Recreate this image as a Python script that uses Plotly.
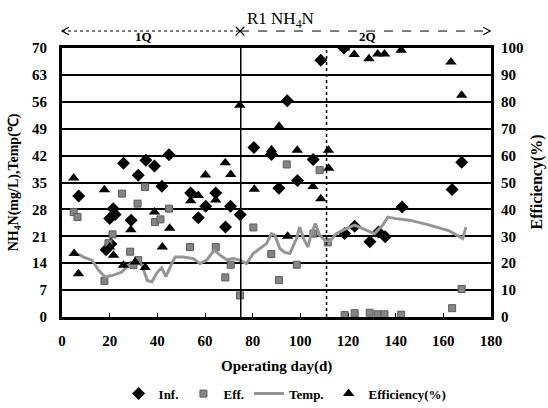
import plotly.graph_objects as go

# ---- data ----
inf_day = [7, 18.5, 20, 20.5, 21.5, 22.3, 25.8, 29, 32, 35.2, 38.8, 41.9, 44.9, 54, 57.2, 60.3,
           64.5, 68.6, 70.7, 74.8, 80.5, 87.9, 91, 94.5, 98.8, 105.4, 108.6, 118.3, 118.6,
           122.8, 129.2, 132.8, 135.6, 142.7, 163.7, 167.7]
inf_val = [31.5, 17.5, 25.6, 19, 28.2, 26.7, 40, 25.2, 36.9, 40.8, 39.3, 34, 42.2, 32.3, 25.8, 28.8,
           32.3, 23.4, 28.8, 26.6, 44.1, 42.3, 33.5, 56.3, 35.5, 41, 66.8, 70, 21.7,
           23.6, 19.6, 22.1, 20.9, 28.6, 33.2, 40.3]

eff_day = [4.9, 6.5, 17.8, 19.5, 21.2, 25.2, 28.6, 30, 32, 31.7, 34.8, 39, 41.3, 44.9, 53.7, 64.5,
           68.5, 70.8, 74.7, 80.3, 87.8, 91, 94.3, 98.5, 105.5, 108.1, 111.5, 118.6, 122.8,
           129.1, 132.5, 135.3, 142.3, 163.7, 167.7]
eff_val = [27.3, 26, 9.4, 19.2, 21.5, 32.1, 17, 13.5, 14.8, 29.5, 33.8, 24.7, 25.4, 28.2, 18.2, 18.2,
           10.3, 13.6, 5.6, 23.3, 16.4, 9.6, 39.7, 13.6, 21.7, 38.2, 19.4, 0.5, 1,
           1.1, 0.7, 0.7, 0.6, 2.3, 7.3]

temp_day = [4.9, 7.7, 9, 12.6, 15.3, 18.1, 21.6, 25.1, 27.9, 30.7, 33.5, 35.8, 37.7, 39.8, 41.8,
            43.6, 46.5, 47.5, 50.9, 55.1, 57.9, 60.7, 63.9, 66.3, 69.1, 71.8, 74.6, 77.4, 80.2,
            83.7, 85.8, 87.9, 89.3, 91.4, 93.5, 95.6, 98.4, 99.7, 101.4, 103.2, 104.6, 106.3,
            108.1, 111.6, 115.1, 119.3, 122.8, 127.7, 131.1, 134.6, 136.7, 140.2, 145.8, 154.2,
            162.5, 168.1, 169.5]
temp_val = [16.5, 16.1, 15.6, 14.8, 12.2, 10.4, 10.9, 11.7, 13.5, 14.3, 13.5, 9.5, 9.1, 11.5, 12.8,
            10.5, 14.5, 15.6, 15.6, 15.2, 13.9, 14.8, 17.4, 16.1, 14.9, 15.2, 14.8, 13.9, 16.5,
            18.2, 19.1, 21.7, 21.3, 17.8, 16.8, 16.5, 20.4, 23.4, 20.4, 18.2, 21.7, 24.3,
            21.3, 19.1, 21.7, 23, 23.9, 22.6, 21.7, 23.9, 26, 25.6, 25.2, 23.9,
            22.4, 20.4, 23.4]

effic_day = [4.9, 5.1, 6.9, 17.8, 20, 21.6, 25.8, 28.9, 30.7, 34.9, 38.8, 42.1, 45.2, 54, 57.2,
             60.2, 64.5, 68.5, 70.8, 74.6, 80.7, 87.9, 91.1, 94.7, 98.7, 105.3, 108.6, 111.8,
             111.9, 118.6, 122.6, 128.8, 132.5, 135.3, 142.3, 163.2, 167.7]
effic_val = [51.7, 23.6, 16.1, 47.3, 26, 23, 19.2, 32.4, 20.4, 18.4, 39, 26, 33, 43.2, 45.2,
             52.8, 43.5, 57.3, 53, 78.7, 47.5, 62.2, 70.9, 30, 62, 48.5, 44, 62,
             55.3, 100, 97.6, 96, 97.8, 97.8, 99.2, 94.8, 82.4]

x_ticks = [0, 20, 40, 60, 80, 100, 120, 140, 160, 180]
left_ticks = [0, 7, 14, 21, 28, 35, 42, 49, 56, 63, 70]
right_ticks = [0, 10, 20, 30, 40, 50, 60, 70, 80, 90, 100]
phase_split = 75
phase_mark = 111

FONT = "Liberation Serif"

fig = go.Figure()
fig.add_trace(go.Scatter(x=inf_day, y=inf_val, mode="markers", name="Inf.",
                         marker=dict(symbol="diamond", size=10, color="black")))
fig.add_trace(go.Scatter(x=eff_day, y=eff_val, mode="markers", name="Eff.",
                         marker=dict(symbol="square", size=7, color="#858585",
                                     line=dict(color="#5a5a5a", width=1))))
fig.add_trace(go.Scatter(x=temp_day, y=temp_val, mode="lines", name="Temp.",
                         line=dict(color="#959595", width=3)))
fig.add_trace(go.Scatter(x=effic_day, y=effic_val, mode="markers", name="Efficiency(%)",
                         yaxis="y2",
                         marker=dict(symbol="triangle-up", size=10, color="black")))

tickfont = dict(family=FONT, size=15, color="black", weight="bold")

fig.update_layout(
    width=548, height=408,
    margin=dict(l=62, r=57, t=48, b=91, autoexpand=False),
    paper_bgcolor="white", plot_bgcolor="white",
    font=dict(family=FONT, color="black"),
    xaxis=dict(range=[0, 180], tickvals=x_ticks, ticks="inside", ticklen=4,
               tickcolor="black", showgrid=False, zeroline=False,
               showline=True, linecolor="black", linewidth=3, mirror=True,
               tickfont=tickfont, ticklabelstandoff=8),
    yaxis=dict(range=[0, 70], tickvals=left_ticks, showgrid=True, gridcolor="black",
               gridwidth=2, zeroline=False, showline=True, linecolor="black",
               linewidth=3, mirror=True, ticks="", tickfont=tickfont,
               ticklabelstandoff=9),
    yaxis2=dict(range=[0, 100], tickvals=right_ticks, overlaying="y", side="right",
                showgrid=False, zeroline=False, showline=False, ticks="",
                tickfont=tickfont, ticklabelstandoff=9),
    legend=dict(orientation="h", x=0.52, xanchor="center", y=-0.285, yanchor="middle",
                font=dict(family=FONT, size=13, color="black", weight="bold"),
                tracegroupgap=0, bgcolor="rgba(0,0,0,0)"),
    showlegend=True,
)

# phase boundary lines
fig.add_shape(type="line", xref="x", yref="paper", x0=phase_split, x1=phase_split,
              y0=0, y1=1, line=dict(color="black", width=1.5))
fig.add_shape(type="line", xref="x", yref="paper", x0=phase_mark, x1=phase_mark,
              y0=0, y1=1, line=dict(color="black", width=1.5, dash="dot"))

# phase arrows above plot
ay = 1.063
fig.add_shape(type="line", xref="paper", yref="paper", x0=0.0, x1=0.415, y0=ay, y1=ay,
              line=dict(color="black", width=1, dash="dot"))
fig.add_shape(type="line", xref="paper", yref="paper", x0=0.415, x1=0.998, y0=ay, y1=ay,
              line=dict(color="black", width=1, dash="dash"))
fig.add_shape(type="path", xref="paper", yref="paper",
              path=f"M 0.016,{ay+0.014} L 0.0,{ay} L 0.016,{ay-0.014}",
              line=dict(color="black", width=1.2))
fig.add_shape(type="path", xref="paper", yref="paper",
              path=f"M 0.982,{ay+0.014} L 0.998,{ay} L 0.982,{ay-0.014}",
              line=dict(color="black", width=1.2))
fig.add_shape(type="path", xref="paper", yref="paper",
              path=f"M 0.405,{ay+0.016} L 0.425,{ay-0.016} M 0.405,{ay-0.016} L 0.425,{ay+0.016}",
              line=dict(color="black", width=1.2))

fig.add_annotation(text="R1 NH<sub>4</sub>N", xref="paper", yref="paper", x=0.51, y=1.105,
                   xanchor="center", yanchor="middle",
                   showarrow=False, font=dict(family=FONT, size=17, color="black"))
fig.add_annotation(text="1Q", xref="paper", yref="paper", x=0.19, y=1.043,
                   xanchor="center", yanchor="middle",
                   showarrow=False, font=dict(family=FONT, size=13, color="black", weight="bold"))
fig.add_annotation(text="2Q", xref="paper", yref="paper", x=0.712, y=1.043,
                   xanchor="center", yanchor="middle",
                   showarrow=False, font=dict(family=FONT, size=13, color="black", weight="bold"))

# axis titles
fig.add_annotation(text="Operating day(d)", xref="paper", yref="paper", x=0.5, y=-0.183,
                   xanchor="center", yanchor="middle",
                   showarrow=False, font=dict(family=FONT, size=15, color="black", weight="bold"))
fig.add_annotation(text="NH<sub>4</sub>N(mg/L),Temp(℃)", xref="paper", yref="paper",
                   x=-0.11, y=0.5, textangle=-90, xanchor="center", yanchor="middle",
                   showarrow=False,
                   font=dict(family=FONT, size=14, color="black", weight="bold"))
fig.add_annotation(text="Efficiency(%)", xref="paper", yref="paper",
                   x=1.105, y=0.5, textangle=-90, xanchor="center", yanchor="middle",
                   showarrow=False,
                   font=dict(family=FONT, size=16, color="black", weight="bold"))

fig.write_html("out.html")
